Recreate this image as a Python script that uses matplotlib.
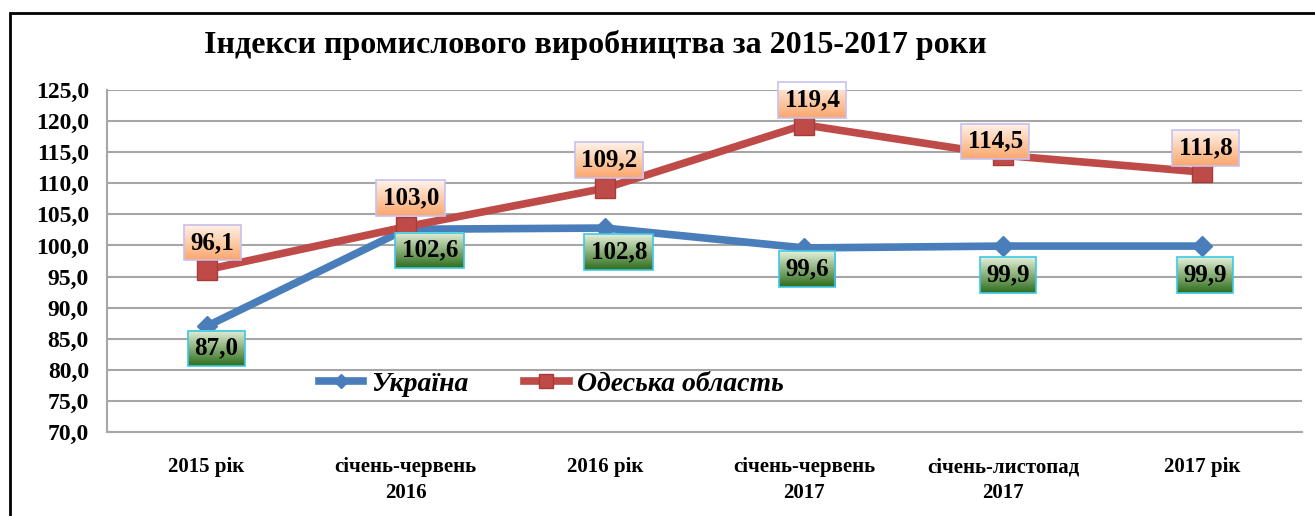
import numpy as np
import matplotlib.pyplot as plt
from matplotlib.patches import Rectangle
from matplotlib.colors import LinearSegmentedColormap

categories = ['2015 рік', 'січень-червень\n2016', '2016 рік',
              'січень-червень\n2017', 'січень-листопад\n2017', '2017 рік']
ukraine = [87.0, 102.6, 102.8, 99.6, 99.9, 99.9]
odesa = [96.1, 103.0, 109.2, 119.4, 114.5, 111.8]
yticks = np.arange(70, 126, 5)

# label placement (pixels relative to the marker)
ua_dx = [10, 24, 14, 3, 5, 3]
ua_dy = [-22, -21, -24, -21, -29, -29]
od_dx = [6, 5, 4, 8, -8, 3]
od_dy = [27, 29, 28, 25, 14, 24]

plt.rcParams['font.family'] = ['Liberation Serif', 'DejaVu Serif']

W, H = 1315, 516
fig = plt.figure(figsize=(W / 100, H / 100), dpi=100)
ax = fig.add_axes([107 / W, 1 - 432 / H, (1302 - 107) / W, (432 - 90) / H])

x = np.arange(len(categories))
blue = '#4a7ebb'
red = '#be4b48'
ax.plot(x, ukraine, color=blue, lw=5.5, marker='D', ms=10, mec=blue, mfc=blue,
        label='Україна', zorder=3)
ax.plot(x, odesa, color=red, lw=5.5, marker='s', ms=14, mec='#a83a37', mfc=red,
        label='Одеська область', zorder=3)

ax.set_xlim(-0.5, len(categories) - 0.5)
ax.set_ylim(70, 125)
ax.set_yticks(yticks)
ax.set_yticklabels([f'{v:.1f}'.replace('.', ',') for v in yticks],
                   fontsize=17, fontweight='bold')
ax.set_xticks(x)
ax.set_xticklabels(categories, fontsize=15, fontweight='bold', linespacing=1.4)
ax.tick_params(axis='x', length=0, pad=18)
ax.tick_params(axis='y', length=0, pad=13)
ax.grid(axis='y', color='#a6a6a6', lw=1.5)
ax.set_axisbelow(True)
for s in ['top', 'right']:
    ax.spines[s].set_visible(False)
ax.spines['left'].set_color('#a6a6a6')
ax.spines['left'].set_linewidth(1.5)
ax.spines['bottom'].set_color('#a6a6a6')
ax.spines['bottom'].set_linewidth(1.5)

fmt = lambda v: f'{v:.1f}'.replace('.', ',')
labels = []
for xi, v, dx, dy in zip(x, odesa, od_dx, od_dy):
    t = ax.annotate(fmt(v), (xi, v), xytext=(dx, dy), textcoords='offset pixels',
                    ha='center', va='center', fontsize=18, fontweight='bold', zorder=6,
                    bbox=dict(boxstyle='square,pad=0.25', fc='none', ec='#c8c0f0', lw=1.2))
    labels.append((t, ['#fff2ea', '#fba76c']))
for xi, v, dx, dy in zip(x, ukraine, ua_dx, ua_dy):
    t = ax.annotate(fmt(v), (xi, v), xytext=(dx, dy), textcoords='offset pixels',
                    ha='center', va='center', fontsize=18, fontweight='bold', zorder=6,
                    bbox=dict(boxstyle='square,pad=0.25', fc='none', ec='#3cc8e8', lw=1.2))
    labels.append((t, ['#e4f0d8', '#2f6e1c']))

leg = ax.legend(loc='center left', bbox_to_anchor=(0.177, 0.14), ncol=2, frameon=False,
                prop=dict(size=20, weight='bold', style='italic'),
                handlelength=1.6, columnspacing=2.0, handletextpad=0.3, markerscale=0.75,
                borderpad=0, borderaxespad=0)

fig.text(595 / W, 1 - 45 / H, 'Індекси промислового виробництва за 2015-2017 роки',
         ha='center', va='center', fontsize=23, fontweight='bold')

fig.patches.append(Rectangle((10 / W, -0.1), 1.2, 1 - 13 / H + 0.1, transform=fig.transFigure,
                             fill=False, ec='black', lw=2))

# gradient fill behind value labels
fig.canvas.draw()
inv = ax.transData.inverted()
for t, cols in labels:
    bb = t.get_bbox_patch().get_window_extent()
    (x0, y0), (x1, y1) = inv.transform([[bb.x0, bb.y0], [bb.x1, bb.y1]])
    cmap = LinearSegmentedColormap.from_list('g', cols)
    grad = np.linspace(0, 1, 64).reshape(-1, 1)
    ax.imshow(grad, extent=(x0, x1, y0, y1), cmap=cmap, aspect='auto', zorder=5,
              interpolation='bilinear', origin='upper')
ax.set_xlim(-0.5, len(categories) - 0.5)
ax.set_ylim(70, 125)

fig.savefig('out.png', dpi=100)
